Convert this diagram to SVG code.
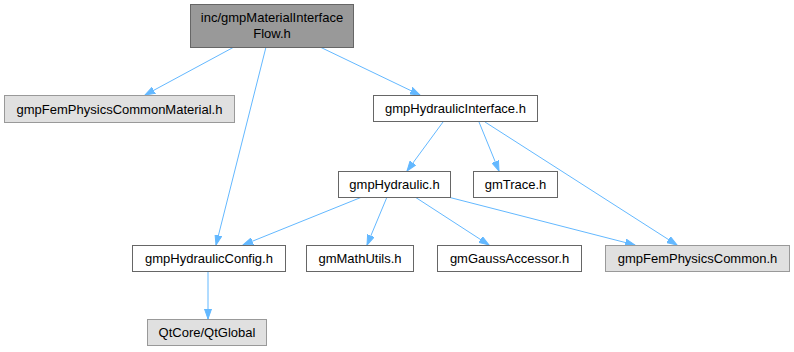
<svg xmlns="http://www.w3.org/2000/svg" width="794" height="352" viewBox="0 0 794 352">
<style>
.n rect{stroke-width:1}
.w rect{fill:#ffffff;stroke:#666666}
.g rect{fill:#e0e0e0;stroke:#999999}
.r rect{fill:#999999;stroke:#666666}
text{font-family:"Liberation Sans",Arial,sans-serif;font-size:13px;fill:#000000;text-anchor:middle}
.e line{stroke:#63b8ff;stroke-width:1;fill:none;marker-end:url(#ah)}
</style>
<defs>
<marker id="ah" markerUnits="userSpaceOnUse" markerWidth="11" markerHeight="8" refX="10" refY="4" orient="auto">
<path d="M0,0.5 L10,4 L0,7.5 z" fill="#63b8ff" stroke="#63b8ff" stroke-width="1"/>
</marker>
</defs>
<rect width="794" height="352" fill="#ffffff"/>
<g id="edges" class="e">
<line x1="234" y1="47" x2="145" y2="95"/>
<line x1="266" y1="47" x2="216" y2="245"/>
<line x1="320" y1="47" x2="420" y2="95"/>
<line x1="443" y1="122" x2="407" y2="171"/>
<line x1="479" y1="122" x2="499" y2="171"/>
<line x1="485" y1="122" x2="677" y2="245"/>
<line x1="362" y1="197" x2="243" y2="245"/>
<line x1="387" y1="197" x2="367" y2="245"/>
<line x1="415" y1="197" x2="489" y2="245"/>
<line x1="448" y1="197" x2="635" y2="245"/>
<line x1="208" y1="272" x2="208" y2="319"/>
</g>
<g id="root" class="n r"><rect x="190.5" y="4.5" width="163" height="43"/><text x="272" y="22">inc/gmpMaterialInterface</text><text x="272" y="38">Flow.h</text></g>
<g id="femMaterial" class="n g"><rect x="4.5" y="95.5" width="230" height="27"/><text x="119.5" y="113.5">gmpFemPhysicsCommonMaterial.h</text></g>
<g id="hydInterface" class="n w"><rect x="373.5" y="95.5" width="164" height="26"/><text x="455.5" y="113">gmpHydraulicInterface.h</text></g>
<g id="hydraulic" class="n w"><rect x="338.5" y="171.5" width="112" height="26"/><text x="394.5" y="189">gmpHydraulic.h</text></g>
<g id="gmTrace" class="n w"><rect x="473.5" y="171.5" width="84" height="26"/><text x="515.5" y="189">gmTrace.h</text></g>
<g id="hydConfig" class="n w"><rect x="132.5" y="245.5" width="153" height="26"/><text x="209" y="263">gmpHydraulicConfig.h</text></g>
<g id="mathUtils" class="n w"><rect x="306.5" y="245.5" width="107" height="26"/><text x="360" y="263">gmMathUtils.h</text></g>
<g id="gauss" class="n w"><rect x="437.5" y="245.5" width="144" height="26"/><text x="509.5" y="263">gmGaussAccessor.h</text></g>
<g id="femCommon" class="n g"><rect x="605.5" y="245.5" width="184" height="26"/><text x="697.5" y="263">gmpFemPhysicsCommon.h</text></g>
<g id="qtGlobal" class="n g"><rect x="147.5" y="319.5" width="119" height="26"/><text x="207" y="337">QtCore/QtGlobal</text></g>
</svg>
